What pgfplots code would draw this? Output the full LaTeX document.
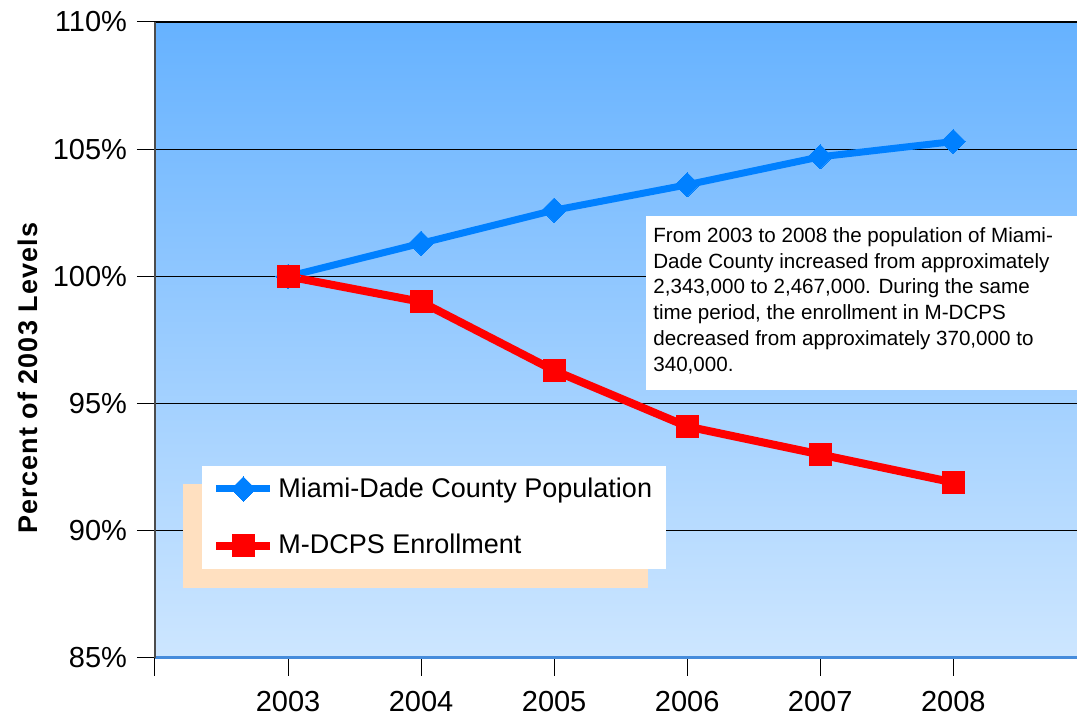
\documentclass[border=0pt]{standalone}
\usepackage{pgfplots}
\pgfplotsset{compat=1.18}
\usepackage{pgfplotstable}
\usepackage{fontspec}
\setmainfont{Liberation Sans}

\definecolor{popblue}{RGB}{0,128,255}
\definecolor{enrred}{RGB}{255,0,0}
\definecolor{bgtop}{RGB}{102,178,255}
\definecolor{bgbot}{RGB}{205,230,255}
\definecolor{peach}{RGB}{255,224,192}
\definecolor{baseblue}{RGB}{70,140,220}

% x = 0..5 stands for 2003..2008
\pgfplotstableread{
x  pop    enr
0  100.0  100.0
1  101.3  99.0
2  102.6  96.3
3  103.6  94.1
4  104.7  93.0
5  105.3  91.9
}\levels

\begin{document}
\begin{tikzpicture}
\useasboundingbox (-77.5pt,-28.5pt) rectangle (461pt,329pt);
\begin{axis}[
  at={(0,0)}, anchor=south west,
  scale only axis, width=461pt, height=318pt,
  xmin=-1, xmax=5.93, ymin=85, ymax=110,
  xtick={-1,0,1,2,3,4,5},
  xticklabels={,2003,2004,2005,2006,2007,2008},
  ytick={85,90,95,100,105,110},
  yticklabels={85\%,90\%,95\%,100\%,105\%,110\%},
  tick label style={font=\fontsize{14.5}{16}\selectfont, black},
  x tick label style={yshift=-4pt},
  y tick label style={xshift=-1.5pt},
  tick align=outside, major tick length=9pt,
  tick style={black, line width=0.5pt},
  axis x line*=bottom, axis y line*=left,
  x axis line style={-, baseblue, line width=1.5pt},
  y axis line style={-, black!70, line width=0.6pt},
  ymajorgrids, grid style={black, line width=0.6pt},
  axis background/.style={top color=bgtop, bottom color=bgbot},
  ylabel={Percent of 2003 Levels},
  ylabel style={font=\fontsize{13.5}{15}\selectfont\bfseries\addfontfeatures{LetterSpace=4},
    at={(axis description cs:-0.138,0.44)}, anchor=center},
  legend style={draw=none, fill=white, at={(rel axis cs:0.051,0.303)},
    anchor=north west, font=\fontsize{13.5}{15}\selectfont,
    inner xsep=5pt, inner ysep=4pt, row sep=13pt},
  legend cell align=left,
  legend image code/.code={\draw[mark repeat=2, mark phase=2, #1]
    plot coordinates {(0pt,0pt) (13.5pt,0pt) (27pt,0pt)};},
]
% legend shadow
\fill[peach] (rel axis cs:0.0304,0.2736) rectangle (rel axis cs:0.5347,0.1101);

\addplot[popblue, line width=3.5pt, mark=square*, mark size=4.3pt,
  mark options={rotate=45, line width=0pt}] table[x=x, y=pop] {\levels};
\addlegendentry{Miami-Dade County Population}
\addplot[enrred, line width=4pt, mark=square*, mark size=5.5pt,
  mark options={line width=0pt}] table[x=x, y=enr] {\levels};
\addlegendentry{M-DCPS Enrollment}

\fill[white] (rel axis cs:0.5325,0.695) rectangle (rel axis cs:1,0.421);
\node[anchor=north west, inner sep=0pt, align=left,
  font=\fontsize{10.3}{12.9}\selectfont]
  at ([xshift=3.5pt, yshift=-5.5pt]rel axis cs:0.5325,0.695)
  {From 2003 to 2008 the population of Miami-\\
   Dade County increased from approximately\\
   2,343,000 to 2,467,000. During the same\\
   time period, the enrollment in M-DCPS\\
   decreased from approximately 370,000 to\\
   340,000.};
\end{axis}
\end{tikzpicture}
\end{document}
